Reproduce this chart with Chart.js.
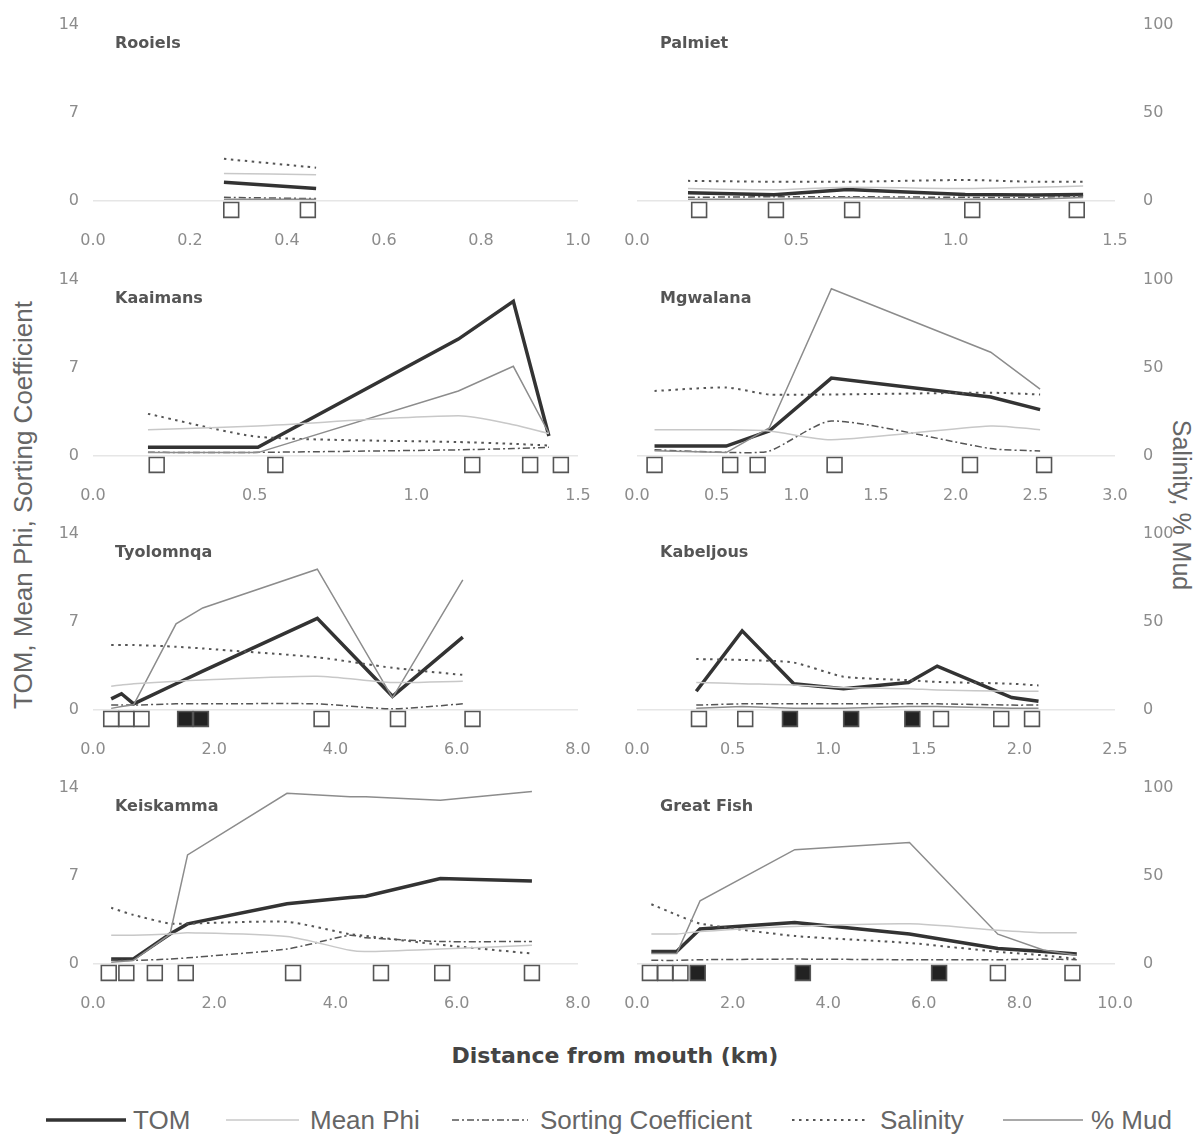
<!DOCTYPE html>
<html>
<head>
<meta charset="utf-8">
<script src="https://cdn.jsdelivr.net/npm/chart.js@4.4.1/dist/chart.umd.min.js"></script>
<style>
body{margin:0;background:#fff;width:1201px;height:1137px;position:relative;overflow:hidden;font-family:'Liberation Sans',Arial,sans-serif}
canvas{position:absolute}
.name{position:absolute;font:bold 16px 'DejaVu Sans',sans-serif;color:#555;line-height:16px;white-space:nowrap}
.axt{position:absolute;font-size:26px;color:#666;white-space:nowrap;line-height:26px}
#xt{position:absolute;left:615px;top:1055px;transform:translate(-50%,-50%);font:bold 22px 'DejaVu Sans',sans-serif;color:#444;white-space:nowrap}
#legend{position:absolute;left:0;top:1095px}
</style>
</head>
<body>
<div class="axt" style="left:23px;top:505px;transform:translate(-50%,-50%) rotate(-90deg)">TOM, Mean Phi, Sorting Coefficient</div>
<div class="axt" style="left:1182px;top:505px;font-size:25px;transform:translate(-50%,-50%) rotate(90deg)">Salinity, % Mud</div>
<div id="xt">Distance from mouth (km)</div>
<svg id="legend" width="1201" height="50">
  <line x1="46" y1="25" x2="126" y2="25" stroke="#333" stroke-width="3.5"/>
  <text x="133" y="34" font-size="26" fill="#666">TOM</text>
  <line x1="226" y1="25" x2="299" y2="25" stroke="#c8c8c8" stroke-width="1.5"/>
  <text x="310" y="34" font-size="26" fill="#666">Mean Phi</text>
  <line x1="452" y1="25" x2="528" y2="25" stroke="#555" stroke-width="1.5" stroke-dasharray="7 3 2 3"/>
  <text x="540" y="34" font-size="26" fill="#666">Sorting Coefficient</text>
  <line x1="792" y1="25" x2="869" y2="25" stroke="#555" stroke-width="2" stroke-dasharray="2.5 4.5"/>
  <text x="880" y="34" font-size="26" fill="#666">Salinity</text>
  <line x1="1003" y1="25" x2="1083" y2="25" stroke="#8c8c8c" stroke-width="1.5"/>
  <text x="1091" y="34" font-size="26" fill="#666">% Mud</text>
</svg>
<div id="panels"></div>
<script>
// distance from mouth (km) of each reading, then TOM, Mean Phi, Sorting (left axis)
// and Salinity, % Mud (right axis); sites = sampling stations, filled = dark squares
const rooielsKm = [0.27, 0.46]
const rooielsTOM = [1.5, 1.0]
const rooielsPhi = [2.2, 2.1]
const rooielsSort = [0.3, 0.2]
const rooielsSal = [24, 19]
const rooielsMud = [1, 1]
const rooielsSites = [0.285, 0.443]
const rooielsFilled = [0, 0]
const rooielsTicks = [0, 0.2, 0.4, 0.6, 0.8, 1.0]

const palmietKm = [0.16, 0.43, 0.66, 1.03, 1.24, 1.40]
const palmietTOM = [0.66, 0.5, 0.93, 0.53, 0.48, 0.53]
const palmietPhi = [1.0, 0.9, 1.1, 1.0, 1.1, 1.2]
const palmietSort = [0.3, 0.35, 0.35, 0.3, 0.3, 0.4]
const palmietSal = [11.5, 11, 11, 12, 11, 11]
const palmietMud = [1, 1, 2, 1, 1, 2]
const palmietSites = [0.195, 0.436, 0.675, 1.052, 1.38]
const palmietFilled = [0, 0, 0, 0, 0]
const palmietTicks = [0, 0.5, 1.0, 1.5]

const kaaimansKm = [0.17, 0.51, 1.13, 1.30, 1.41]
const kaaimansTOM = [0.7, 0.7, 9.3, 12.3, 1.6]
const kaaimansPhi = [2.1, 2.4, 3.2, 2.5, 1.8]
const kaaimansSort = [0.3, 0.3, 0.5, 0.6, 0.7]
const kaaimansSal = [24, 11, 8, 7, 6]
const kaaimansMud = [2, 2, 37, 51, 13]
const kaaimansSites = [0.197, 0.564, 1.173, 1.352, 1.447]
const kaaimansFilled = [0, 0, 0, 0, 0]
const kaaimansTicks = [0, 0.5, 1.0, 1.5]

const mgwalanaKm = [0.11, 0.56, 0.83, 1.22, 2.22, 2.53]
const mgwalanaTOM = [0.8, 0.8, 2.0, 6.2, 4.7, 3.7]
const mgwalanaPhi = [2.1, 2.1, 2.0, 1.3, 2.4, 2.1]
const mgwalanaSort = [0.5, 0.3, 0.4, 2.8, 0.6, 0.4]
const mgwalanaSal = [37, 39, 35, 35, 36, 35]
const mgwalanaMud = [3, 2, 16, 95, 59, 38]
const mgwalanaSites = [0.11, 0.585, 0.757, 1.24, 2.09, 2.555]
const mgwalanaFilled = [0, 0, 0, 0, 0, 0]
const mgwalanaTicks = [0, 0.5, 1.0, 1.5, 2.0, 2.5, 3.0]

const tyolomnqaKm = [0.30, 0.47, 0.67, 1.37, 1.81, 3.70, 4.94, 6.10]
const tyolomnqaTOM = [0.9, 1.3, 0.5, 2.1, 3.1, 7.3, 1.1, 5.8]
const tyolomnqaPhi = [1.9, 2.0, 2.1, 2.3, 2.4, 2.7, 2.2, 2.3]
const tyolomnqaSort = [0.4, 0.4, 0.4, 0.5, 0.5, 0.5, 0.1, 0.5]
const tyolomnqaSal = [37, 37, 37, 36, 35, 30, 24, 20]
const tyolomnqaMud = [1, 2, 3, 49, 58, 80, 7, 74]
const tyolomnqaSites = [0.30, 0.55, 0.80, 1.52, 1.78, 3.77, 5.03, 6.26]
const tyolomnqaFilled = [0, 0, 0, 1, 1, 0, 0, 0]
const tyolomnqaTicks = [0, 2, 4, 6, 8]

const kabeljousKm = [0.31, 0.55, 0.82, 1.08, 1.42, 1.57, 1.96, 2.10]
const kabeljousTOM = [1.5, 6.3, 2.1, 1.7, 2.2, 3.5, 1.0, 0.7]
const kabeljousPhi = [2.2, 2.1, 2.0, 1.8, 1.7, 1.6, 1.5, 1.5]
const kabeljousSort = [0.4, 0.5, 0.5, 0.5, 0.5, 0.5, 0.4, 0.4]
const kabeljousSal = [29, 28.5, 27, 19, 17, 16, 15, 14]
const kabeljousMud = [1, 2, 1, 1, 2, 2, 1, 1]
const kabeljousSites = [0.324, 0.566, 0.80, 1.12, 1.44, 1.59, 1.905, 2.066]
const kabeljousFilled = [0, 0, 1, 1, 1, 0, 0, 0]
const kabeljousTicks = [0, 0.5, 1.0, 1.5, 2.0, 2.5]

const keiskammaKm = [0.30, 0.66, 1.27, 1.56, 3.20, 4.24, 4.50, 5.73, 7.24]
const keiskammaTOM = [0.4, 0.4, 2.4, 3.2, 4.8, 5.3, 5.4, 6.8, 6.6]
const keiskammaPhi = [2.3, 2.3, 2.4, 2.5, 2.2, 1.1, 1.0, 1.2, 1.5]
const keiskammaSort = [0.3, 0.3, 0.4, 0.5, 1.2, 2.3, 2.1, 1.8, 1.8]
const keiskammaSal = [32, 28, 23, 23, 24, 17, 16, 11, 6]
const keiskammaMud = [1, 2, 17, 62, 97, 95, 95, 93, 98]
const keiskammaSites = [0.26, 0.55, 1.02, 1.53, 3.30, 4.75, 5.76, 7.24]
const keiskammaFilled = [0, 0, 0, 0, 0, 0, 0, 0]
const keiskammaTicks = [0, 2, 4, 6, 8]

const greatFishKm = [0.30, 0.83, 1.32, 3.30, 5.70, 7.55, 8.50, 9.20]
const greatFishTOM = [1.0, 1.0, 2.8, 3.3, 2.4, 1.25, 1.0, 0.8]
const greatFishPhi = [2.4, 2.4, 2.6, 3.0, 3.2, 2.7, 2.5, 2.5]
const greatFishSort = [0.3, 0.3, 0.35, 0.4, 0.35, 0.35, 0.4, 0.35]
const greatFishSal = [34, 28, 23, 16, 12, 7, 5, 3]
const greatFishMud = [6, 6, 36, 65, 69, 17, 8, 5]
const greatFishSites = [0.27, 0.59, 0.91, 1.27, 3.47, 6.32, 7.55, 9.11]
const greatFishFilled = [0, 0, 0, 1, 1, 1, 0, 0]
const greatFishTicks = [0, 2, 4, 6, 8, 10]

const leftTicks = [0, 7, 14]
const rightTicks = [0, 50, 100]

const yMin = -1.5          // room under zero for the station squares
const siteY = -0.7
const rowTops = [25, 280, 534, 788]

const tickFont = {family: 'DejaVu Sans', size: 16}
const tickColor = '#8c8c8c'

function pts(km, vals) {
    return km.map((x, i) => ({x: x, y: vals[i]}))
}

// y axes: fixed width, no label overhang so every plot area starts at the padding
function fixWidth(w) {
    return s => {
        s.width = w
        s.paddingTop = 0
        s.paddingBottom = 0
    }
}

function panel(name, row, col, km, tom, phi, sort, sal, mud, sites, filled, xTicks) {
    const cv = document.createElement('canvas')
    const left = col == 0 ? 30 : 600
    const width = col == 0 ? 570 : 600
    cv.width = width
    cv.height = 250
    cv.style.left = left + 'px'
    cv.style.top = (rowTops[row] - 15) + 'px'
    document.getElementById('panels').appendChild(cv)

    const label = document.createElement('div')
    label.className = 'name'
    label.textContent = name
    label.style.left = (col == 0 ? 115 : 660) + 'px'
    label.style.top = (rowTops[row] + 10) + 'px'
    document.body.appendChild(label)

    const line = {showLine: true, pointRadius: 0, pointHoverRadius: 0, fill: false}
    const datasets = [
        Object.assign({label: 'Mean Phi', data: pts(km, phi), yAxisID: 'y', borderColor: '#c8c8c8', borderWidth: 1.5, tension: 0.25}, line),
        Object.assign({label: '% Mud', data: pts(km, mud), yAxisID: 'y2', borderColor: '#8c8c8c', borderWidth: 1.5, tension: 0}, line),
        Object.assign({label: 'Sorting Coefficient', data: pts(km, sort), yAxisID: 'y', borderColor: '#555', borderWidth: 1.5, borderDash: [7, 3, 2, 3], tension: 0.2}, line),
        Object.assign({label: 'Salinity', data: pts(km, sal), yAxisID: 'y2', borderColor: '#555', borderWidth: 2, borderDash: [2.5, 4.5], tension: 0.2}, line),
        Object.assign({label: 'TOM', data: pts(km, tom), yAxisID: 'y', borderColor: '#333', borderWidth: 3.5, tension: 0}, line),
        {
            label: 'Sites',
            data: sites.map(x => ({x: x, y: siteY})),
            yAxisID: 'y',
            showLine: false,
            pointStyle: 'rect',
            pointRadius: 10.5,
            pointHoverRadius: 10.5,
            backgroundColor: filled.map(f => f ? '#222' : '#fff'),
            borderColor: '#555',
            borderWidth: 1.6,
        },
    ]

    new Chart(cv.getContext('2d'), {
        type: 'scatter',
        data: {datasets: datasets},
        options: {
            responsive: false,
            animation: false,
            devicePixelRatio: 1,
            layout: {padding: {top: 15, left: 0, right: 0, bottom: 0}},
            plugins: {legend: {display: false}, tooltip: {enabled: false}},
            scales: {
                x: {
                    type: 'linear',
                    min: xTicks[0],
                    max: xTicks[xTicks.length - 1],
                    afterBuildTicks: s => { s.ticks = xTicks.map(v => ({value: v})) },
                    afterFit: s => { s.height = 40 },
                    ticks: {font: tickFont, color: tickColor, padding: 3, maxRotation: 0, autoSkip: false,
                        callback: v => Number(v).toFixed(1)},
                    grid: {display: false},
                    border: {display: false},
                },
                y: {
                    position: 'left',
                    min: yMin,
                    max: 14,
                    afterBuildTicks: s => { s.ticks = leftTicks.map(v => ({value: v})) },
                    afterFit: fixWidth(col == 0 ? 63 : 37),
                    ticks: {display: col == 0, font: tickFont, color: tickColor, padding: 14},
                    grid: {drawTicks: false, lineWidth: 1.5,
                        color: c => c.tick && c.tick.value == 0 ? '#e6e6e6' : 'rgba(0,0,0,0)'},
                    border: {display: false},
                },
                y2: {
                    position: 'right',
                    min: yMin * 100 / 14,
                    max: 100,
                    afterBuildTicks: s => { s.ticks = rightTicks.map(v => ({value: v})) },
                    afterFit: fixWidth(col == 0 ? 22 : 85),
                    ticks: {display: col == 1, font: tickFont, color: tickColor, padding: 28},
                    grid: {display: false, drawTicks: false},
                    border: {display: false},
                },
            },
        },
    })
}

panel('Rooiels', 0, 0, rooielsKm, rooielsTOM, rooielsPhi, rooielsSort, rooielsSal, rooielsMud, rooielsSites, rooielsFilled, rooielsTicks)
panel('Palmiet', 0, 1, palmietKm, palmietTOM, palmietPhi, palmietSort, palmietSal, palmietMud, palmietSites, palmietFilled, palmietTicks)
panel('Kaaimans', 1, 0, kaaimansKm, kaaimansTOM, kaaimansPhi, kaaimansSort, kaaimansSal, kaaimansMud, kaaimansSites, kaaimansFilled, kaaimansTicks)
panel('Mgwalana', 1, 1, mgwalanaKm, mgwalanaTOM, mgwalanaPhi, mgwalanaSort, mgwalanaSal, mgwalanaMud, mgwalanaSites, mgwalanaFilled, mgwalanaTicks)
panel('Tyolomnqa', 2, 0, tyolomnqaKm, tyolomnqaTOM, tyolomnqaPhi, tyolomnqaSort, tyolomnqaSal, tyolomnqaMud, tyolomnqaSites, tyolomnqaFilled, tyolomnqaTicks)
panel('Kabeljous', 2, 1, kabeljousKm, kabeljousTOM, kabeljousPhi, kabeljousSort, kabeljousSal, kabeljousMud, kabeljousSites, kabeljousFilled, kabeljousTicks)
panel('Keiskamma', 3, 0, keiskammaKm, keiskammaTOM, keiskammaPhi, keiskammaSort, keiskammaSal, keiskammaMud, keiskammaSites, keiskammaFilled, keiskammaTicks)
panel('Great Fish', 3, 1, greatFishKm, greatFishTOM, greatFishPhi, greatFishSort, greatFishSal, greatFishMud, greatFishSites, greatFishFilled, greatFishTicks)
</script>
</body>
</html>
